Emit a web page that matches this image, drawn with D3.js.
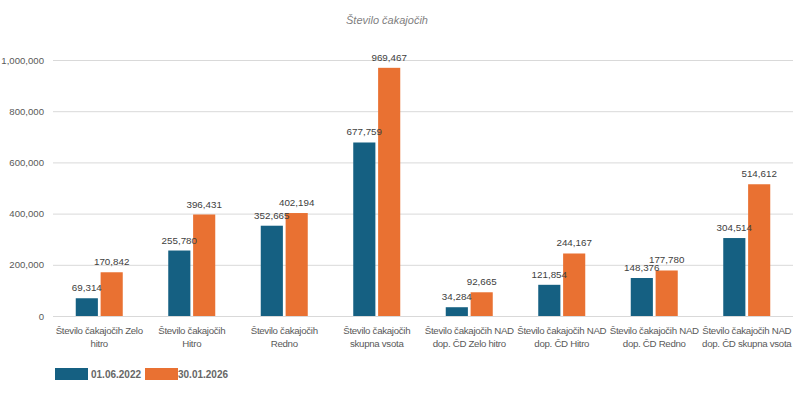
<!DOCTYPE html>
<html>
<head>
<meta charset="utf-8">
<script src="https://cdn.jsdelivr.net/npm/d3@7"></script>
<style>
  body { margin: 0; background: #fff; }
  svg text { font-family: "Liberation Sans", Arial, sans-serif; }
</style>
</head>
<body>
<div class="container"></div>
<script>
var width = 800,
    height = 398,
    margin = {top: 60, right: 7, bottom: 82, left: 53};

var categories = [
    'Število čakajočih Zelo hitro',
    'Število čakajočih Hitro',
    'Število čakajočih Redno',
    'Število čakajočih skupna vsota',
    'Število čakajočih NAD dop. ČD Zelo hitro',
    'Število čakajočih NAD dop. ČD Hitro',
    'Število čakajočih NAD dop. ČD Redno',
    'Število čakajočih NAD dop. ČD skupna vsota'
];
// words on the first line of each wrapped category label
var firstLineWords = [3, 2, 2, 2, 3, 3, 3, 3];
var series = ['01.06.2022', '30.01.2026'];
var values2022 = [69314, 255780, 352665, 677759, 34284, 121854, 148376, 304514];
var values2026 = [170842, 396431, 402194, 969467, 92665, 244167, 177780, 514612];
var yTicks = [0, 200000, 400000, 600000, 800000, 1000000];
var colors = ['#156082', '#e97132'];

var fmt = d3.format(',');

var svg = d3.select('.container').append('svg')
    .attr('width', width)
    .attr('height', height);

var x = d3.scaleBand()
    .domain(categories)
    .range([margin.left, width - margin.right]);

var xs = d3.scaleBand()
    .domain(series)
    .range([x.bandwidth() / 2 - 23.5, x.bandwidth() / 2 + 23.5])
    .paddingInner(0.11);

var y = d3.scaleLinear()
    .domain([0, 1000000])
    .range([height - margin.bottom, margin.top]);

// title
svg.append('text')
    .attr('x', 387)
    .attr('y', 24)
    .attr('text-anchor', 'middle')
    .style('font-style', 'italic')
    .style('font-size', '11px')
    .style('fill', '#7f7f7f')
    .text('Število čakajočih');

// gridlines + y labels
var yAxis = svg.append('g')
    .attr('transform', 'translate(' + margin.left + ',0)')
    .call(d3.axisLeft(y).tickValues(yTicks).tickFormat(fmt)
        .tickSize(-(width - margin.left - margin.right)).tickPadding(9));
yAxis.select('.domain').remove();
yAxis.selectAll('line').attr('stroke', '#d9d9d9');
yAxis.selectAll('text')
    .style('font-size', '9.6px')
    .style('fill', '#595959');

var table = categories.map((c, i) => ({cat: c, vals: [values2022[i], values2026[i]]}));

var groups = svg.selectAll('.cat')
    .data(table)
    .enter().append('g')
    .attr('class', 'cat')
    .attr('transform', (d) => 'translate(' + x(d.cat) + ',0)');

groups.selectAll('rect')
    .data((d) => d.vals.map((v, j) => ({s: series[j], v: v, j: j})))
    .enter().append('rect')
    .attr('x', (d) => xs(d.s))
    .attr('width', xs.bandwidth())
    .attr('y', (d) => y(d.v))
    .attr('height', (d) => y(0) - y(d.v))
    .attr('fill', (d) => colors[d.j]);

groups.selectAll('.lbl')
    .data((d) => d.vals.map((v, j) => ({s: series[j], v: v, j: j})))
    .enter().append('text')
    .attr('class', 'lbl')
    .attr('x', (d) => xs(d.s) + xs.bandwidth() / 2)
    .attr('y', (d) => y(d.v) - 7)
    .attr('text-anchor', 'middle')
    .style('font-size', '9.8px')
    .style('fill', '#404040')
    .text((d) => fmt(d.v));

// category labels, two lines each
var xl = svg.append('g').selectAll('text')
    .data(categories)
    .enter().append('text')
    .attr('transform', (d) => 'translate(' + (x(d) + x.bandwidth() / 2) + ',334)')
    .attr('text-anchor', 'middle')
    .style('font-size', '9.7px')
    .style('letter-spacing', '-0.3px')
    .style('fill', '#595959');

xl.each(function(d, i) {
    var words = d.split(' '),
        n = firstLineWords[i],
        t = d3.select(this);
    t.append('tspan').attr('x', 0).attr('dy', 0).text(words.slice(0, n).join(' '));
    t.append('tspan').attr('x', 0).attr('dy', '12.7px').text(words.slice(n).join(' '));
});

// legend
var legendX = [55, 145];
var legend = svg.append('g').selectAll('g')
    .data(series)
    .enter().append('g')
    .attr('transform', (d, i) => 'translate(' + legendX[i] + ',368)');
legend.append('rect')
    .attr('width', 33)
    .attr('height', 12)
    .attr('fill', (d, i) => colors[i]);
legend.append('text')
    .attr('x', (d, i) => i === 0 ? 36 : 33)
    .attr('y', 10)
    .style('font-size', '10px')
    .style('font-weight', 'bold')
    .style('fill', '#666')
    .text((d) => d);
</script>
</body>
</html>
